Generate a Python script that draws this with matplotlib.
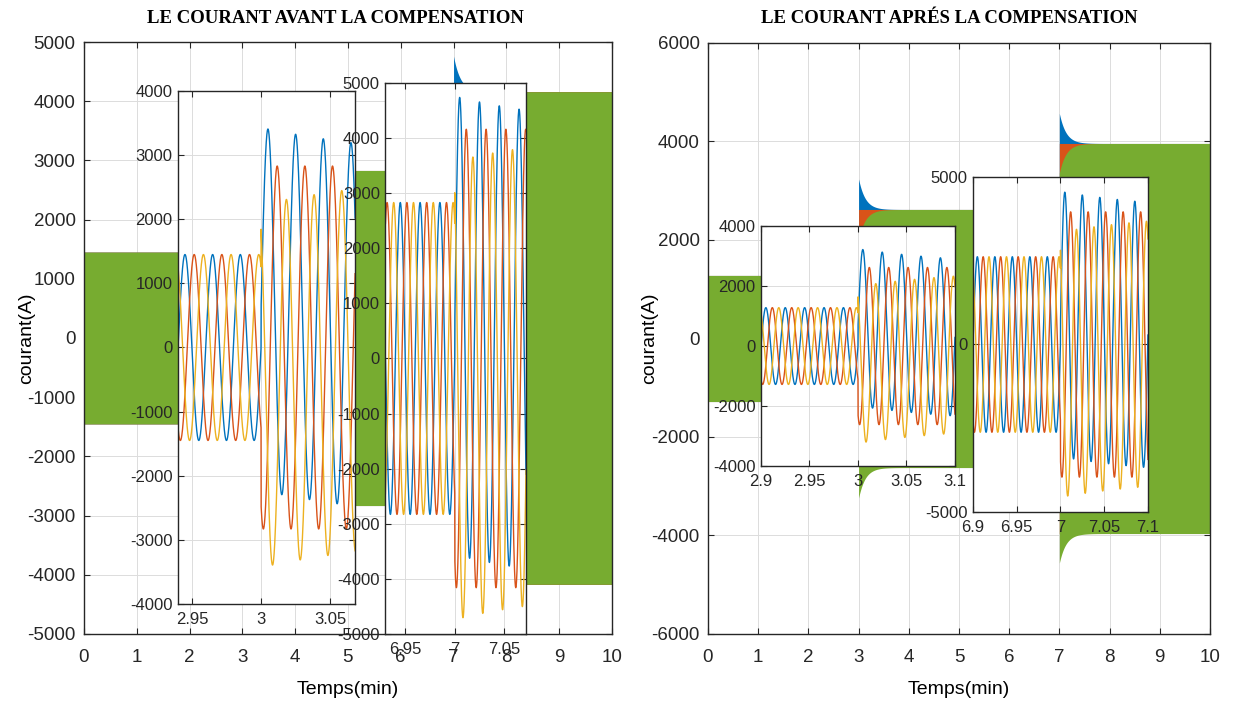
import numpy as np
import matplotlib
matplotlib.use('Agg')
import matplotlib.pyplot as plt
from matplotlib import font_manager

# --- valeurs ---
t_steps = [3.0, 7.0]      # instants des échelons de charge
freq = 50.0               # Hz
tau = 0.13                # constante de décroissance de la composante continue

# avant compensation : amplitude crête par palier, composante continue par phase/échelon
amp_avant = [1450, 2830, 4160]
dc_avant = [[600, 600], [0, 0], [-600, -580]]

# après compensation
amp_apres = [1280, 2620, 3960]
dc_apres = [[620, 610], [0, 0], [-620, -600]]

phase_colors = ['#0072BD', '#D95319', '#EDB120']
green = '#77AC30'

# polices
names = {f.name for f in font_manager.fontManager.ttflist}
sans = 'Liberation Sans Narrow' if 'Liberation Sans Narrow' in names else 'Liberation Sans'
plt.rcParams['font.family'] = [sans, 'DejaVu Sans']
plt.rcParams['axes.unicode_minus'] = False


def envelope(t, amps, dcs, k):
    a = np.where(t < t_steps[0], amps[0], np.where(t < t_steps[1], amps[1], amps[2]))
    off = np.zeros_like(t)
    for j, ts in enumerate(t_steps):
        dt = np.clip(t - ts, 0, None)
        off += np.where(t >= ts, dcs[k][j] * np.exp(-dt / tau), 0.0)
    return a, off


def style(ax, size, xpad, ypad):
    ax.grid(True, color='#dcdcdc', lw=0.7)
    ax.set_axisbelow(True)
    for s in ax.spines.values():
        s.set_color('#262626')
        s.set_linewidth(1.0)
    ax.tick_params(direction='in', top=True, right=True, length=4,
                   width=0.8, color='#262626', labelsize=size, labelcolor='#262626')
    ax.tick_params(axis='x', pad=xpad)
    ax.tick_params(axis='y', pad=ypad)


def main_panel(rect, amps, dcs, ylim, yticks):
    ax = fig.add_axes(rect)
    t = np.linspace(0, 10, 40001)
    for k, c in enumerate([phase_colors[0], phase_colors[1], green]):
        a, off = envelope(t, amps, dcs, k)
        ax.fill_between(t, -a + off, a + off, color=c, lw=0)
    ax.set_xlim(0, 10)
    ax.set_ylim(*ylim)
    ax.set_xticks(range(0, 11))
    ax.set_yticks(yticks)
    style(ax, 13.5, 11, 6)
    ax.set_xlabel('Temps(min)', fontsize=14, va='center')
    ax.set_ylabel('courant(A)', fontsize=14, va='center')
    return ax


def inset(rect, amps, dcs, xlim, xticks, xlabels, ylim, yticks):
    ax = fig.add_axes(rect)
    ax.set_facecolor('white')
    t = np.linspace(xlim[0], xlim[1], 4000)
    for k, c in enumerate(phase_colors):
        a, off = envelope(t, amps, dcs, k)
        i = a * np.sin(2 * np.pi * freq * t - k * 2 * np.pi / 3) + off
        ax.plot(t, i, color=c, lw=1.0)
    ax.set_xlim(*xlim)
    ax.set_ylim(*ylim)
    ax.set_xticks(xticks)
    ax.set_xticklabels(xlabels)
    ax.set_yticks(yticks)
    style(ax, 12, 6, 4)
    return ax


fig = plt.figure(figsize=(12.33, 7.06), dpi=100)

# panneau gauche
axl = main_panel([0.0681, 0.1020, 0.4282, 0.8385], amp_avant, dc_avant,
                 (-5000, 5000), range(-5000, 5001, 1000))
axl.xaxis.set_label_coords(0.5, -0.094)
axl.yaxis.set_label_coords(-0.108, 0.5)
inset([0.1444, 0.1445, 0.1436, 0.7266], amp_avant, dc_avant,
      (2.940, 3.068), [2.95, 3.0, 3.05], ['2.95', '3', '3.05'],
      (-4000, 4000), range(-4000, 4001, 1000))
inset([0.3126, 0.1020, 0.1140, 0.7805], amp_avant, dc_avant,
      (6.930, 7.072), [6.95, 7.0, 7.05], ['6.95', '7', '7.05'],
      (-5000, 5000), range(-5000, 5001, 1000))

# panneau droit
axr = main_panel([0.5742, 0.1020, 0.4071, 0.8371], amp_apres, dc_apres,
                 (-6000, 6000), range(-6000, 6001, 2000))
axr.xaxis.set_label_coords(0.5, -0.094)
axr.yaxis.set_label_coords(-0.116, 0.5)
inset([0.6172, 0.3399, 0.1573, 0.3399], amp_apres, dc_apres,
      (2.9, 3.1), [2.9, 2.95, 3.0, 3.05, 3.1], ['2.9', '2.95', '3', '3.05', '3.1'],
      (-4000, 4000), range(-4000, 4001, 2000))
inset([0.7891, 0.2748, 0.1419, 0.4745], amp_apres, dc_apres,
      (6.9, 7.1), [6.9, 6.95, 7.0, 7.05, 7.1], ['6.9', '6.95', '7', '7.05', '7.1'],
      (-5000, 5000), [-5000, 0, 5000])

fig.text(0.2717, 0.9745, 'LE COURANT AVANT LA COMPENSATION', ha='center', va='center',
         fontsize=13.5, fontweight='bold', family=['Liberation Serif', 'DejaVu Serif'])
fig.text(0.7697, 0.9745, 'LE COURANT APRÉS LA COMPENSATION', ha='center', va='center',
         fontsize=13.5, fontweight='bold', family=['Liberation Serif', 'DejaVu Serif'])

fig.savefig('out.png', dpi=100)
